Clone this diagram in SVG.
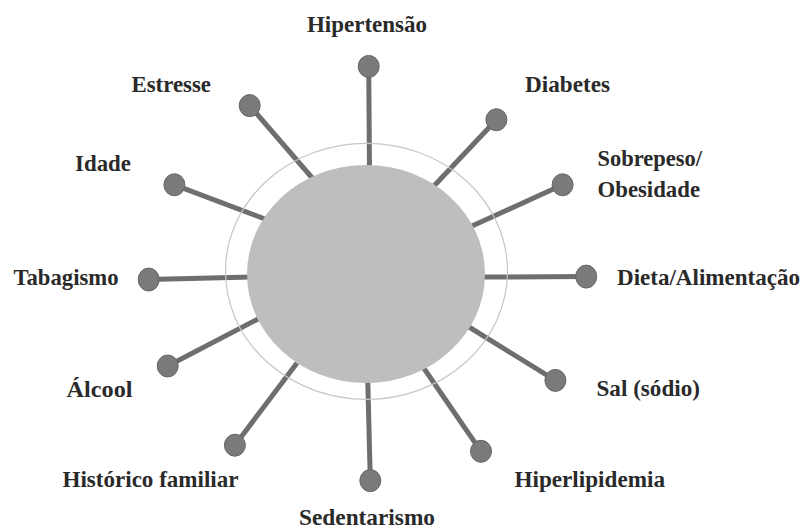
<svg xmlns="http://www.w3.org/2000/svg" width="804" height="529" viewBox="0 0 804 529">
<style>
.lbl{font-family:"Liberation Serif","Times New Roman",serif;font-weight:bold;font-size:22.5px;fill:#2a2a2a}
.dot{fill:#7a7a7a;stroke:#666;stroke-width:1}
.spoke{stroke:#6e6e6e;stroke-width:5;stroke-linecap:butt}
</style>
<rect width="804" height="529" fill="#fff"/>
<g id="connectors">
<line class="spoke" x1="368.7" y1="66.4" x2="369.5" y2="170"/>
<line class="spoke" x1="249.7" y1="105.6" x2="314" y2="180"/>
<line class="spoke" x1="496.4" y1="119.7" x2="433" y2="187"/>
<line class="spoke" x1="174.4" y1="184.8" x2="265" y2="219"/>
<line class="spoke" x1="562.6" y1="184.8" x2="472" y2="226"/>
<line class="spoke" x1="148.7" y1="279.5" x2="252" y2="277"/>
<line class="spoke" x1="586.2" y1="276.6" x2="482" y2="277"/>
<line class="spoke" x1="167.7" y1="366" x2="258" y2="319"/>
<line class="spoke" x1="555.4" y1="380.4" x2="469" y2="327"/>
<line class="spoke" x1="234.9" y1="445.2" x2="297" y2="363"/>
<line class="spoke" x1="481" y1="451.3" x2="423" y2="367"/>
<line class="spoke" x1="370.3" y1="480.6" x2="367.7" y2="378"/>
</g>
<g id="ring">
<ellipse cx="366.5" cy="271.3" rx="141" ry="128" fill="none" stroke="#c6c6c6" stroke-width="1.2"/>
</g>
<g id="center">
<ellipse cx="366" cy="274" rx="119" ry="109" fill="#bebebe"/>
</g>
<g id="hipertensao"><ellipse class="dot" cx="368.7" cy="66.4" rx="10.5" ry="11"/><text class="lbl" x="307" y="31.5" textLength="120" lengthAdjust="spacingAndGlyphs">Hipertensão</text></g>
<g id="estresse"><ellipse class="dot" cx="249.7" cy="105.6" rx="10.5" ry="11"/><text class="lbl" x="131.5" y="91.5" textLength="79.5" lengthAdjust="spacingAndGlyphs">Estresse</text></g>
<g id="diabetes"><ellipse class="dot" cx="496.4" cy="119.7" rx="10.5" ry="11"/><text class="lbl" x="525" y="91.5" textLength="85" lengthAdjust="spacingAndGlyphs">Diabetes</text></g>
<g id="idade"><ellipse class="dot" cx="174.4" cy="184.8" rx="10.5" ry="11"/><text class="lbl" x="75" y="171" textLength="56" lengthAdjust="spacingAndGlyphs">Idade</text></g>
<g id="sobrepeso"><ellipse class="dot" cx="562.6" cy="184.8" rx="10.5" ry="11"/><text class="lbl" x="597.5" y="166" textLength="104.5" lengthAdjust="spacingAndGlyphs">Sobrepeso/</text><text class="lbl" x="597.5" y="196.5" textLength="102.5" lengthAdjust="spacingAndGlyphs">Obesidade</text></g>
<g id="tabagismo"><ellipse class="dot" cx="148.7" cy="279.5" rx="10.5" ry="11.5"/><text class="lbl" x="13.5" y="285" textLength="105" lengthAdjust="spacingAndGlyphs">Tabagismo</text></g>
<g id="dieta"><ellipse class="dot" cx="586.2" cy="276.6" rx="10.5" ry="11.5"/><text class="lbl" x="617" y="285" textLength="183" lengthAdjust="spacingAndGlyphs">Dieta/Alimentação</text></g>
<g id="alcool"><ellipse class="dot" cx="167.7" cy="366" rx="10.5" ry="11"/><text class="lbl" x="66.5" y="397" textLength="66" lengthAdjust="spacingAndGlyphs">Álcool</text></g>
<g id="sal"><ellipse class="dot" cx="555.4" cy="380.4" rx="10.5" ry="11"/><text class="lbl" x="596.5" y="396" textLength="103.5" lengthAdjust="spacingAndGlyphs">Sal (sódio)</text></g>
<g id="historico"><ellipse class="dot" cx="234.9" cy="445.2" rx="10.5" ry="11"/><text class="lbl" x="62.5" y="487" textLength="176" lengthAdjust="spacingAndGlyphs">Histórico familiar</text></g>
<g id="hiperlipidemia"><ellipse class="dot" cx="481" cy="451.3" rx="10.5" ry="11"/><text class="lbl" x="514.5" y="487" textLength="150.5" lengthAdjust="spacingAndGlyphs">Hiperlipidemia</text></g>
<g id="sedentarismo"><ellipse class="dot" cx="370.3" cy="480.6" rx="10.5" ry="11"/><text class="lbl" x="299" y="525" textLength="136" lengthAdjust="spacingAndGlyphs">Sedentarismo</text></g>
</svg>
